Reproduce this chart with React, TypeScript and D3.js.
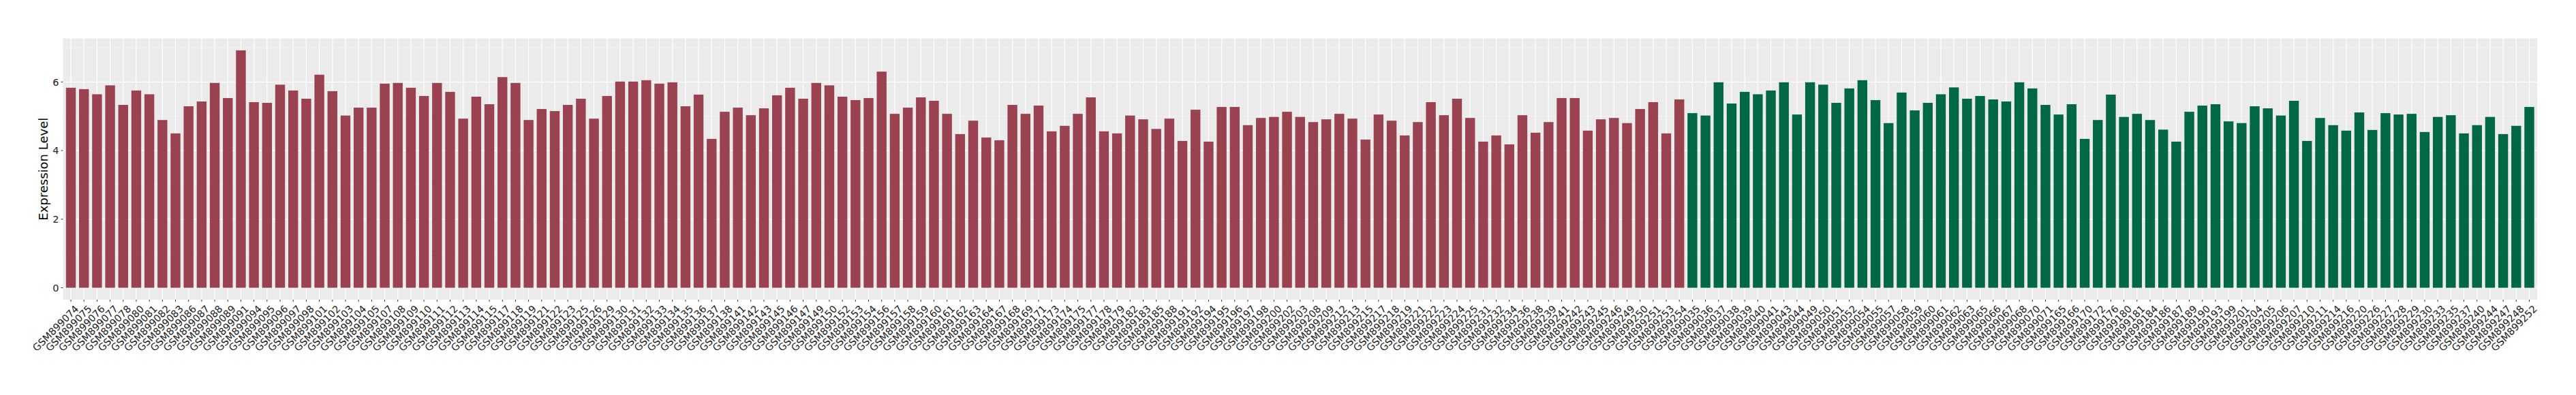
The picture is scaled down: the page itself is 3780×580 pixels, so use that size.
import React from "react";
import * as d3 from "d3";

const groupA: string[] = [
  "GSM899074","GSM899075","GSM899076","GSM899077","GSM899078","GSM899080","GSM899081","GSM899082","GSM899083","GSM899086",
  "GSM899087","GSM899088","GSM899089","GSM899091","GSM899094","GSM899095","GSM899096","GSM899097","GSM899098","GSM899101",
  "GSM899102","GSM899103","GSM899104","GSM899105","GSM899107","GSM899108","GSM899109","GSM899110","GSM899111","GSM899112",
  "GSM899113","GSM899114","GSM899115","GSM899117","GSM899118","GSM899119","GSM899121","GSM899122","GSM899123","GSM899125",
  "GSM899126","GSM899129","GSM899130","GSM899131","GSM899132","GSM899133","GSM899134","GSM899135","GSM899136","GSM899137",
  "GSM899138","GSM899141","GSM899142","GSM899143","GSM899145","GSM899146","GSM899147","GSM899149","GSM899150","GSM899152",
  "GSM899153","GSM899154","GSM899156","GSM899157","GSM899158","GSM899159","GSM899160","GSM899161","GSM899162","GSM899163",
  "GSM899164","GSM899167","GSM899168","GSM899169","GSM899171","GSM899173","GSM899174","GSM899175","GSM899177","GSM899178",
  "GSM899179","GSM899182","GSM899183","GSM899185","GSM899188","GSM899191","GSM899192","GSM899194","GSM899195","GSM899196",
  "GSM899197","GSM899198","GSM899200","GSM899202","GSM899203","GSM899208","GSM899209","GSM899212","GSM899213","GSM899215",
  "GSM899217","GSM899218","GSM899219","GSM899221","GSM899222","GSM899223","GSM899224","GSM899225","GSM899231","GSM899232",
  "GSM899234","GSM899236","GSM899238","GSM899239","GSM899241","GSM899242","GSM899243","GSM899245","GSM899246","GSM899249",
  "GSM899250","GSM899251","GSM899253","GSM899254"
];
const valuesA: number[] = [
  5.83,5.79,5.64,5.90,5.33,5.75,5.64,4.89,4.50,5.29,
  5.43,5.97,5.53,6.92,5.41,5.39,5.92,5.75,5.51,6.21,
  5.73,5.02,5.25,5.25,5.95,5.97,5.83,5.59,5.97,5.71,
  4.93,5.57,5.35,6.14,5.97,4.89,5.21,5.15,5.33,5.51,
  4.93,5.59,6.01,6.01,6.05,5.95,5.99,5.29,5.63,4.34,
  5.13,5.25,5.03,5.23,5.61,5.83,5.51,5.97,5.90,5.57,
  5.47,5.53,6.30,5.07,5.25,5.55,5.45,5.07,4.48,4.87,
  4.38,4.30,5.33,5.07,5.31,4.56,4.72,5.07,5.55,4.56,
  4.50,5.02,4.91,4.63,4.93,4.28,5.19,4.26,5.27,5.27,
  4.74,4.95,4.98,5.13,4.98,4.83,4.91,5.07,4.93,4.32,
  5.05,4.87,4.44,4.83,5.41,5.03,5.51,4.95,4.26,4.44,
  4.18,5.03,4.52,4.83,5.53,5.53,4.58,4.91,4.95,4.80,
  5.21,5.41,4.50,5.49
];
const groupB: string[] = [
  "GSM899035","GSM899036","GSM899037","GSM899038","GSM899039","GSM899040","GSM899041","GSM899043","GSM899044","GSM899049",
  "GSM899050","GSM899051","GSM899052","GSM899054","GSM899055","GSM899057","GSM899058","GSM899059","GSM899060","GSM899061",
  "GSM899062","GSM899063","GSM899065","GSM899066","GSM899067","GSM899068","GSM899070","GSM899071","GSM899165","GSM899166",
  "GSM899170","GSM899172","GSM899176","GSM899180","GSM899181","GSM899184","GSM899186","GSM899187","GSM899189","GSM899190",
  "GSM899193","GSM899199","GSM899201","GSM899204","GSM899205","GSM899206","GSM899207","GSM899210","GSM899211","GSM899214",
  "GSM899216","GSM899220","GSM899226","GSM899227","GSM899228","GSM899229","GSM899230","GSM899233","GSM899235","GSM899237",
  "GSM899240","GSM899244","GSM899247","GSM899248","GSM899252"
];
const valuesB: number[] = [
  5.09,5.02,5.99,5.37,5.71,5.64,5.75,5.99,5.05,5.99,
  5.92,5.39,5.81,6.05,5.47,4.80,5.69,5.17,5.39,5.64,
  5.84,5.51,5.59,5.49,5.43,5.99,5.81,5.33,5.05,5.35,
  4.34,4.89,5.63,4.98,5.07,4.89,4.61,4.26,5.13,5.31,
  5.35,4.85,4.80,5.29,5.23,5.02,5.45,4.28,4.95,4.74,
  4.58,5.11,4.60,5.09,5.05,5.07,4.54,4.98,5.03,4.50,
  4.74,4.98,4.48,4.72,5.27
];
const yTicks: number[] = [0, 2, 4, 6];
const yMinor: number[] = [1, 3, 5, 7];
const yTitle = "Expression Level";
const colorA = "#9A4250";
const colorB = "#006847";

type Row = { name: string; value: number; group: "A" | "B" };
const rows: Row[] = [
  ...groupA.map((n, i) => ({ name: n, value: valuesA[i], group: "A" as const })),
  ...groupB.map((n, i) => ({ name: n, value: valuesB[i], group: "B" as const })),
];

export default function App() {
  const W = 3780, H = 580;
  const left = 92.5, right = 3723, top = 56.5, bottom = 440;
  const x = d3.scaleBand<string>()
    .domain(rows.map(r => r.name))
    .range([left, right])
    .paddingInner(0.25)
    .paddingOuter(0.225);
  const maxV = d3.max(rows, r => r.value) as number;
  const y = d3.scaleLinear().domain([-0.05 * maxV, maxV * 1.05]).range([bottom, top]);
  const font = "'DejaVu Sans', 'Liberation Sans', Arial, sans-serif";
  return (
    <svg width={W} height={H} style={{ position: "absolute", left: 0, top: 0, background: "#fff" }} fontFamily={font}>
      <rect x={left} y={top} width={right - left} height={bottom - top} fill="#EBEBEB" />
      {yMinor.map(v => (
        <line key={"mi" + v} x1={left} x2={right} y1={y(v)} y2={y(v)} stroke="#fff" strokeWidth={0.6} opacity={0.9} />
      ))}
      {yTicks.map(v => (
        <line key={"ma" + v} x1={left} x2={right} y1={y(v)} y2={y(v)} stroke="#fff" strokeWidth={1.2} />
      ))}
      {rows.map(r => {
        const cx = (x(r.name) as number) + x.bandwidth() / 2;
        return <line key={"g" + r.name} x1={cx} x2={cx} y1={top} y2={bottom} stroke="#fff" strokeWidth={1.2} />;
      })}
      {rows.map(r => (
        <rect key={"b" + r.name} x={x(r.name)} width={x.bandwidth()} y={y(r.value)} height={y(0) - y(r.value)}
          fill={r.group === "A" ? colorA : colorB} />
      ))}
      {yTicks.map(v => (
        <g key={"yt" + v}>
          <line x1={left - 3} x2={left} y1={y(v)} y2={y(v)} stroke="#333" strokeWidth={1} />
          <text x={left - 6} y={y(v)} dy="0.36em" textAnchor="end" fontSize={14.5} fill="#222">{v}</text>
        </g>
      ))}
      {rows.map(r => {
        const cx = (x(r.name) as number) + x.bandwidth() / 2;
        return (
          <g key={"xt" + r.name}>
            <line x1={cx} x2={cx} y1={bottom} y2={bottom + 3} stroke="#333" strokeWidth={1} />
            <text transform={`translate(${cx + 5},${bottom + 7}) rotate(-45)`} textAnchor="end" dy="0.72em"
              fontSize={14.5} fill="#222">{r.name}</text>
          </g>
        );
      })}
      <text transform={`translate(70,${(top + bottom) / 2}) rotate(-90)`} textAnchor="middle" fontSize={18} fill="#000">{yTitle}</text>
    </svg>
  );
}
